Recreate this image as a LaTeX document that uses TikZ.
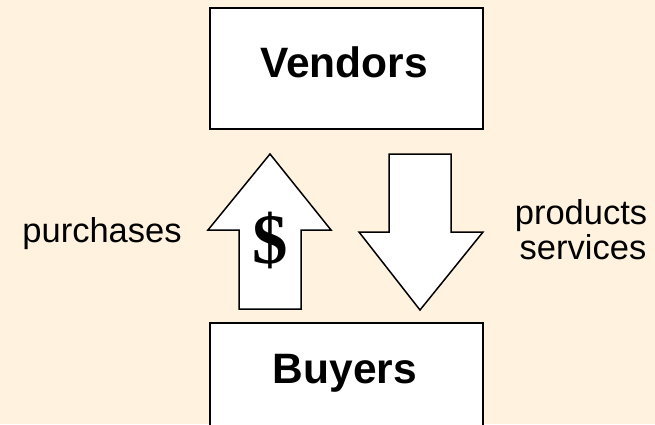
\documentclass[tikz,border=0pt]{standalone}
\usepackage{fontspec}
\setmainfont{Liberation Sans}
\newfontfamily\dollarfont{Liberation Serif}
\definecolor{bg}{RGB}{255,242,222}
\begin{document}
\begin{tikzpicture}[x=1pt,y=-1pt,
  box/.style={draw=black, line width=2pt, fill=white, minimum width=273pt, minimum height=121pt, inner sep=0pt, anchor=north west},
  blockarrow/.style={draw=black, line width=1.5pt, fill=white, line join=miter},
  boxtext/.style={font=\fontsize{42.5}{42.5}\selectfont\bfseries, anchor=base, inner sep=0pt},
  lbl/.style={font=\fontsize{34.5}{36}\selectfont, inner sep=0pt, anchor=base},
  dollarstyle/.style={font=\dollarfont\bfseries\fontsize{71}{71}\selectfont, inner sep=0pt}]
\fill[bg] (0,0) rectangle (655,424);
\useasboundingbox (0,0) rectangle (655,424);
\clip (0,0) rectangle (655,424);
% boxes
\node[box] (vendors) at (209,7) {};
\node[box] (buyers) at (209,322) {};
\node[boxtext] (vendorstext) at (344,77) {Vendors};
\node[boxtext] (buyerstext) at (345,383) {Buyers};
% block arrows
\draw[blockarrow] (239,309) -- (239,230) -- (208,230) -- (270,154) -- (331,230) -- (301,230) -- (301,309) -- cycle;
\draw[blockarrow] (389,154) -- (451,154) -- (451,232) -- (483,232) -- (420,310) -- (359,232) -- (389,232) -- cycle;
\node[dollarstyle] (dollar) at (270,240) {\$};
% labels
\node[lbl] (purchases) at (102,242) {purchases};
\node[lbl] (products) at (581,224) {products};
\node[lbl] (services) at (583,259) {services};
\end{tikzpicture}
\end{document}
